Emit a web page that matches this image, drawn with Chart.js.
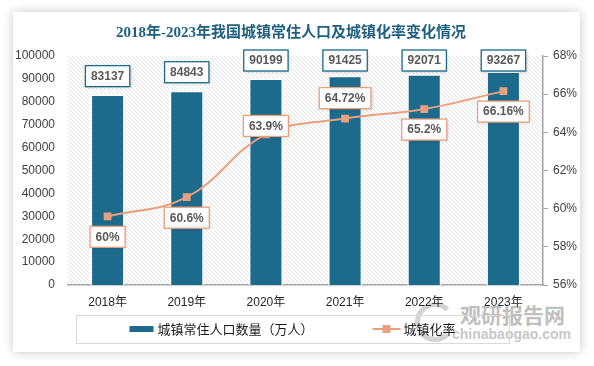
<!DOCTYPE html>
<html>
<head>
<meta charset="utf-8">
<script src="https://cdn.jsdelivr.net/npm/chart.js@4.4.0/dist/chart.umd.min.js"></script>
<style>
html, body { margin: 0; padding: 0; background: #fff; }
#wrap { position: relative; width: 594px; height: 366px; overflow: hidden; }
#card { position: absolute; left: 13px; top: 12px; width: 567px; height: 340px; background: #fff; box-shadow: 0 0 10px rgba(0,0,0,0.22); }
#wm { position: absolute; left: 415px; top: 300px; width: 160px; height: 46px; opacity: 0.55; }
#wm .ring { position: absolute; left: 0; top: 2px; width: 30px; height: 30px; border: 5px solid #b0b0b0; border-right-color: transparent; border-radius: 50%; }
#wm .cn { position: absolute; left: 45px; top: 1px; font: bold 21px "Noto Sans CJK SC", sans-serif; color: #8c8c8c; line-height: 26px; }
#wm .en { position: absolute; left: 37px; top: 26px; font: bold 14px "Liberation Sans", sans-serif; color: #9a9a9a; line-height: 16px; }
#chart { position: absolute; left: 0; top: 0; }
</style>
</head>
<body>
<div id="wrap">
  <div id="card"></div>
  <div id="wm"><div class="ring"></div><div class="cn">观研报告网</div><div class="en">chinabaogao.com</div></div>
  <canvas id="chart" width="594" height="366"></canvas>
</div>
<script>
// --- data ---
const years = ['2018年', '2019年', '2020年', '2021年', '2022年', '2023年'];
const population = [83137, 84843, 90199, 91425, 92071, 93267];   // 万人
const urbanRate = [59.6, 60.6, 63.89, 64.72, 65.22, 66.16];        // %
const rateLabels = ['60%', '60.6%', '63.9%', '64.72%', '65.2%', '66.16%'];

const titleText = '2018年-2023年我国城镇常住人口及城镇化率变化情况';
const barColor = '#1c6a8c';
const lineColor = '#e9a07e';
const numFont = '"Liberation Sans", "Noto Sans CJK SC", sans-serif';
const cjkFont = '"Noto Sans CJK SC", "Liberation Sans", sans-serif';

// hatched plot background
function makeHatch() {
    const c = document.createElement('canvas');
    c.width = 4; c.height = 4;
    const g = c.getContext('2d');
    g.fillStyle = '#fff';
    g.fillRect(0, 0, 4, 4);
    g.strokeStyle = '#e0e0e0';
    g.lineWidth = 0.9;
    g.beginPath();
    g.moveTo(-1, -1); g.lineTo(5, 5);
    g.moveTo(-1, 3); g.lineTo(1, 5);
    g.moveTo(3, -1); g.lineTo(5, 1);
    g.stroke();
    return c;
}

const hatchPlugin = {
    id: 'hatch',
    beforeDraw(chart) {
        const { ctx, chartArea: a } = chart;
        ctx.save();
        ctx.fillStyle = ctx.createPattern(makeHatch(), 'repeat');
        ctx.fillRect(a.left, a.top, a.right - a.left, a.bottom - a.top);
        ctx.restore();
    }
};

function drawLabelBox(ctx, cx, top, text, border) {
    ctx.font = 'bold 12px ' + numFont;
    const w = ctx.measureText(text).width + 11;
    const h = 21;
    const x = cx - w / 2;
    ctx.save();
    ctx.shadowColor = 'rgba(0,0,0,0.22)';
    ctx.shadowBlur = 3;
    ctx.shadowOffsetX = 1;
    ctx.shadowOffsetY = 1;
    ctx.fillStyle = '#fff';
    ctx.fillRect(x, top, w, h);
    ctx.restore();
    ctx.strokeStyle = border;
    ctx.lineWidth = 1.3;
    ctx.strokeRect(x, top, w, h);
    ctx.fillStyle = '#595959';
    ctx.textAlign = 'center';
    ctx.textBaseline = 'middle';
    ctx.fillText(text, cx, top + h / 2 + 0.5);
}

// where each rate label sits relative to its point
const ratePlacement = ['below', 'below', 'over', 'above', 'below', 'below'];

const labelPlugin = {
    id: 'labels',
    afterDatasetsDraw(chart) {
        const ctx = chart.ctx;
        const a = chart.chartArea;
        ctx.save();
        chart.getDatasetMeta(0).data.forEach((bar, i) => {
            const bottom = Math.max(bar.y - 8, a.top + 15);
            drawLabelBox(ctx, bar.x, bottom - 21, String(population[i]), barColor);
        });
        chart.getDatasetMeta(1).data.forEach((pt, i) => {
            let top;
            if (ratePlacement[i] === 'below') top = pt.y + 10;
            else if (ratePlacement[i] === 'above') top = pt.y - 31;
            else top = pt.y - 19;
            drawLabelBox(ctx, pt.x, top, rateLabels[i], lineColor);
        });
        ctx.restore();
    }
};

// title + bordered legend
const framePlugin = {
    id: 'frame',
    afterDraw(chart) {
        const { ctx, chartArea: a } = chart;
        ctx.save();
        ctx.font = 'bold 15px "Liberation Serif", "Noto Sans CJK SC", serif';
        ctx.fillStyle = '#1f5f7f';
        ctx.textAlign = 'center';
        ctx.textBaseline = 'middle';
        ctx.fillText(titleText, 291, 33);

        // legend box
        const bx = a.left + 8, bw = a.right - 34 - bx, by = a.bottom + 30, bh = 28;
        ctx.strokeStyle = '#d9d9d9';
        ctx.lineWidth = 1;
        ctx.strokeRect(bx + 0.5, by + 0.5, bw, bh);

        const ds = chart.data.datasets;
        ctx.font = '13px ' + cjkFont;
        const t1 = ctx.measureText(ds[0].label).width;
        const t2 = ctx.measureText(ds[1].label).width;
        const total = 24 + 4 + t1 + 59 + 28 + 3 + t2;
        let x = bx + bw / 2 - total / 2;
        const my = by + bh / 2;
        ctx.fillStyle = barColor;
        ctx.fillRect(x, my - 3, 24, 6);
        x += 28;
        ctx.fillStyle = '#1a1a1a';
        ctx.textAlign = 'left';
        ctx.fillText(ds[0].label, x, my);
        x += t1 + 59;
        ctx.strokeStyle = lineColor;
        ctx.lineWidth = 2;
        ctx.beginPath();
        ctx.moveTo(x, my); ctx.lineTo(x + 28, my);
        ctx.stroke();
        ctx.fillStyle = lineColor;
        ctx.fillRect(x + 10, my - 4, 8, 8);
        x += 31;
        ctx.fillStyle = '#1a1a1a';
        ctx.fillText(ds[1].label, x, my);
        ctx.restore();
    }
};

new Chart(document.getElementById('chart'), {
    type: 'bar',
    data: {
        labels: years,
        datasets: [{
            type: 'bar',
            label: '城镇常住人口数量（万人）',
            data: population,
            yAxisID: 'y',
            backgroundColor: barColor,
            borderColor: '#fff',
            borderWidth: 1.5,
            barPercentage: 0.43,
            categoryPercentage: 1,
            order: 1
        }, {
            type: 'line',
            label: '城镇化率',
            data: urbanRate,
            yAxisID: 'y1',
            borderColor: lineColor,
            backgroundColor: lineColor,
            borderWidth: 2,
            tension: 0.4,
            pointStyle: 'rect',
            pointRadius: 5.5,
            pointBorderWidth: 0,
            order: 0
        }]
    },
    options: {
        responsive: false,
        animation: false,
        layout: { padding: { top: 56, left: 15, right: 0, bottom: 51 } },
        plugins: {
            legend: { display: false },
            title: { display: false },
            tooltip: { enabled: false }
        },
        scales: {
            x: {
                grid: { display: false, drawTicks: false },
                border: { display: true, color: '#a6a6a6', width: 1.5 },
                ticks: { color: '#262626', font: { size: 12, family: numFont }, padding: 10 },
                afterFit(scale) { scale.height = 30; }
            },
            y: {
                position: 'left',
                min: 0,
                max: 100000,
                grid: { display: false, drawTicks: false },
                border: { display: false },
                ticks: {
                    stepSize: 10000,
                    color: '#404040',
                    font: { size: 12, family: numFont },
                    padding: 13,
                    callback: v => String(v)
                },
                afterFit(scale) { scale.width = 53; }
            },
            y1: {
                position: 'right',
                min: 56,
                max: 68,
                grid: { display: true, drawOnChartArea: false, drawTicks: true, tickLength: 5, color: '#a6a6a6' },
                border: { display: true, color: '#a6a6a6', width: 1.5 },
                ticks: {
                    stepSize: 2,
                    color: '#404040',
                    font: { size: 12, family: numFont },
                    padding: 5,
                    callback: v => v + '%'
                },
                afterFit(scale) { scale.width = 51; }
            }
        }
    },
    plugins: [hatchPlugin, labelPlugin, framePlugin]
});
</script>
</body>
</html>
